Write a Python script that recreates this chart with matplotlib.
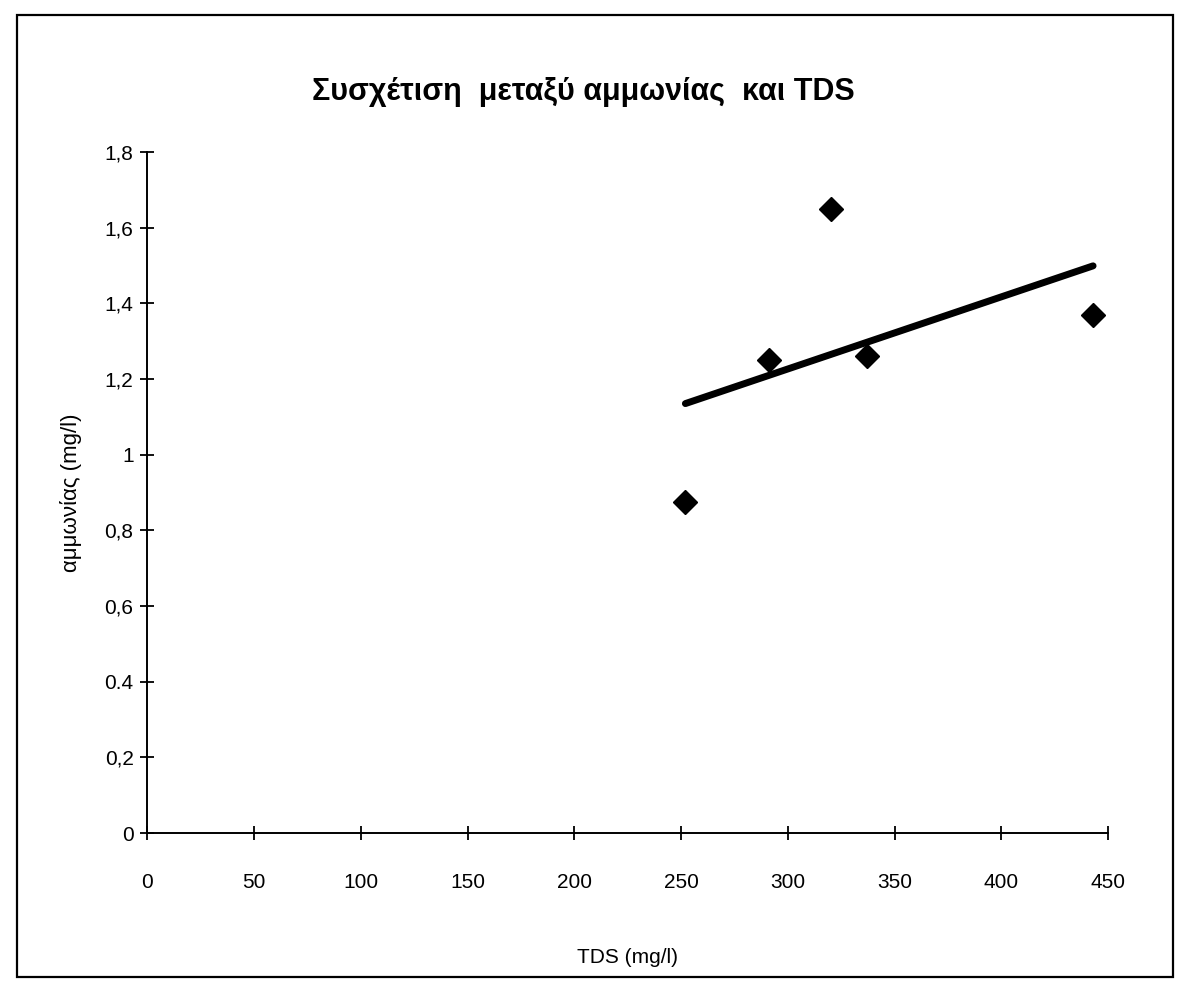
import numpy as np
import matplotlib
matplotlib.use("Agg")
import matplotlib.pyplot as plt
from matplotlib.patches import Rectangle

# data
tds = [252, 291, 320, 337, 443]
ammonia = [0.875, 1.25, 1.65, 1.26, 1.37]
y_ticks = [0, 0.2, 0.4, 0.6, 0.8, 1.0, 1.2, 1.4, 1.6, 1.8]
y_tick_labels = ["0", "0,2", "0.4", "0,6", "0,8", "1", "1,2", "1,4", "1,6", "1,8"]
x_ticks = [0, 50, 100, 150, 200, 250, 300, 350, 400, 450]

plt.rcParams['font.family'] = ['Liberation Sans', 'DejaVu Sans']

fig = plt.figure(figsize=(11.79, 9.85), dpi=100)
ax = fig.add_axes([0.1251, 0.1543, 0.8147, 0.6914])

# scatter points
ax.plot(tds, ammonia, linestyle="none", marker="D", markersize=12,
        color="black", zorder=3)

# linear trendline through the points
slope, icept = np.polyfit(tds, ammonia, 1)
tx = np.array([min(tds), max(tds)])
ax.plot(tx, slope * tx + icept, color="black", linewidth=5,
        solid_capstyle="round", zorder=2)

ax.set_xlim(0, 450)
ax.set_ylim(0, 1.8)
ax.set_xticks(x_ticks)
ax.set_xticklabels([str(v) for v in x_ticks])
ax.set_yticks(y_ticks)
ax.set_yticklabels(y_tick_labels)

for side in ["top", "right"]:
    ax.spines[side].set_visible(False)
for side in ["left", "bottom"]:
    ax.spines[side].set_linewidth(1.4)
    ax.spines[side].set_color("black")

ax.tick_params(axis="both", direction="inout", length=10, width=1.3,
               labelsize=15, colors="black")
ax.tick_params(axis="x", pad=24)
ax.tick_params(axis="y", pad=5)

ax.set_xlabel("TDS (mg/l)", fontsize=15, labelpad=40)
ax.set_ylabel("αμμωνίας (mg/l)", fontsize=16, labelpad=16)

fig.text(0.495, 0.907, "Συσχέτιση  μεταξύ αμμωνίας  και TDS",
         ha="center", va="center", fontsize=22, fontweight="bold",
         family=['Liberation Sans Narrow', 'Liberation Sans', 'DejaVu Sans'])

# frame around the whole chart
fig.patches.append(Rectangle((0.0144, 0.008), 0.9806, 0.977,
                             transform=fig.transFigure, fill=False,
                             edgecolor="black", linewidth=1.6))

fig.savefig("out.png", dpi=100, facecolor="white")
